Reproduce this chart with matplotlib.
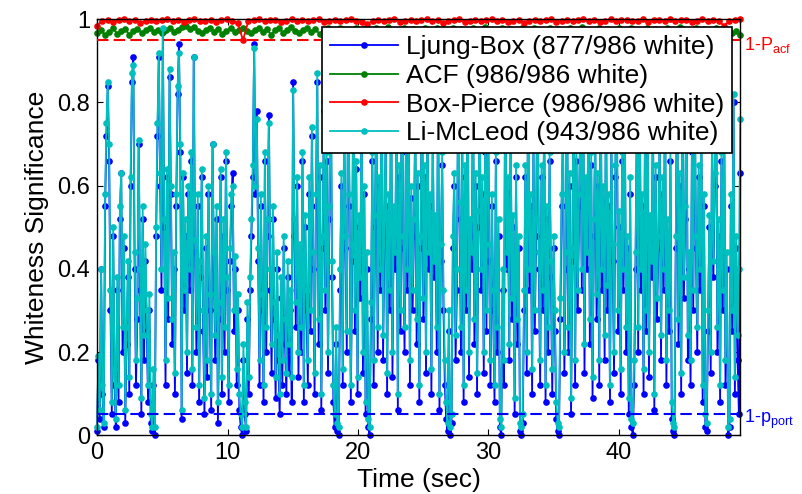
import numpy as np
import matplotlib
matplotlib.use("Agg")
import matplotlib.pyplot as plt

plt.rcParams["font.family"] = ["Liberation Sans", "DejaVu Sans"]
plt.rcParams["mathtext.fontset"] = "custom"
plt.rcParams["mathtext.rm"] = "Liberation Sans"

T_END = 49.3

# whiteness significance in percent, one row is about one second
ljung_box = [
    1, 18, 4, 40, 10, 2, 55, 72, 84, 66,
    30, 5, 48, 12, 2, 35, 8, 52, 63, 20,
    45, 3, 22, 38, 10, 60, 85, 91, 40, 12,
    28, 70, 35, 5, 52, 18, 42, 25, 8, 30,
    3, 1, 12, 0, 48, 72, 91, 60, 35, 97,
    50, 12, 62, 28, 86, 58, 22, 40, 10, 55,
    82, 94, 68, 4, 62, 30, 48, 15, 58, 35,
    66, 12, 91, 44, 20, 55, 8, 38, 62, 25,
    5, 45, 14, 58, 30, 6, 70, 40, 18, 52,
    3, 28, 62, 10, 48, 20, 66, 35, 8, 42,
    55, 63, 25, 40, 12, 30, 6, 2, 0, 18,
    5, 1, 28, 10, 35, 48, 62, 94, 58, 78,
    42, 12, 55, 30, 8, 66, 20, 48, 77, 35,
    15, 52, 28, 9, 40, 18, 5, 33, 12, 45,
    22, 10, 38, 15, 30, 8, 85, 48, 26, 60,
    14, 42, 20, 66, 8, 50, 30, 12, 58, 25,
    72, 40, 10, 55, 85, 22, 62, 6, 45, 78,
    30, 66, 15, 52, 90, 38, 8, 2, 22, 1,
    0, 35, 60, 12, 75, 45, 20, 88, 55, 8,
    42, 92, 25, 64, 10, 50, 33, 80, 15, 58,
    5, 40, 2, 0, 28, 66, 12, 50, 85, 20,
    60, 35, 95, 18, 48, 72, 10, 55, 30, 88,
    14, 52, 40, 78, 6, 62, 25, 92, 45, 20,
    68, 35, 85, 12, 57, 30, 48, 75, 22, 60,
    8, 45, 93, 28, 62, 15, 80, 40, 55, 10,
    72, 38, 50, 20, 88, 6, 42, 65, 30, 12,
    4, 1, 25, 0, 3, 45, 60, 18, 35, 88,
    52, 20, 70, 8, 62, 30, 95, 14, 48, 40,
    85, 22, 60, 10, 50, 78, 35, 58, 15, 68,
    25, 90, 42, 12, 55, 30, 8, 66, 20, 48,
    2, 0, 35, 12, 92, 40, 58, 18, 75, 28,
    50, 5, 62, 22, 45, 1, 0, 3, 30, 62,
    15, 85, 35, 55, 10, 70, 25, 48, 90, 40,
    12, 62, 30, 80, 8, 52, 20, 66, 38, 10,
    45, 25, 4, 1, 0, 28, 55, 72, 15, 40,
    88, 20, 60, 5, 42, 95, 12, 66, 30, 55,
    78, 35, 92, 15, 58, 40, 85, 22, 65, 9,
    48, 72, 28, 60, 12, 90, 35, 56, 18, 82,
    30, 55, 8, 70, 42, 15, 62, 88, 25, 50,
    10, 66, 35, 80, 20, 45, 5, 58, 2, 0,
    12, 40, 75, 20, 92, 35, 55, 10, 70, 25,
    88, 14, 50, 38, 80, 6, 62, 28, 45, 72,
    18, 58, 35, 85, 12, 48, 25, 66, 4, 1,
    0, 45, 92, 22, 60, 10, 75, 33, 52, 85,
    18, 40, 12, 68, 30, 88, 45, 20, 62, 35,
    78, 8, 55, 2, 1, 25, 50, 15, 72, 38,
    60, 92, 20, 48, 8, 66, 30, 80, 12, 40,
    0, 2, 55, 25, 80, 10, 45, 18, 5, 63,
]

li_mcleod = [
    2, 19, 6, 40, 12, 3, 58, 75, 85, 70,
    35, 8, 50, 16, 4, 38, 12, 55, 63, 26,
    48, 6, 26, 42, 14, 62, 87, 89, 44, 18,
    33, 71, 40, 9, 55, 24, 46, 30, 12, 34,
    5, 2, 16, 2, 50, 75, 92, 63, 40, 98,
    52, 18, 64, 33, 88, 60, 28, 44, 15, 58,
    84, 92, 70, 6, 63, 35, 52, 20, 60, 40,
    68, 16, 91, 47, 26, 58, 12, 42, 64, 30,
    9, 48, 18, 60, 34, 10, 70, 44, 24, 55,
    8, 32, 64, 14, 52, 26, 68, 38, 12, 45,
    58, 60, 30, 43, 16, 34, 10, 5, 2, 22,
    8, 2, 32, 14, 38, 52, 65, 93, 60, 76,
    45, 18, 58, 34, 12, 68, 26, 52, 75, 40,
    22, 55, 32, 14, 44, 24, 10, 38, 18, 48,
    28, 15, 42, 22, 35, 14, 83, 52, 32, 62,
    20, 46, 26, 68, 12, 53, 35, 18, 62, 30,
    74, 44, 15, 58, 87, 28, 65, 10, 48, 80,
    35, 68, 20, 55, 92, 42, 12, 5, 26, 3,
    2, 40, 63, 16, 78, 48, 25, 90, 58, 12,
    46, 93, 30, 66, 14, 53, 38, 82, 20, 60,
    8, 44, 4, 2, 32, 68, 18, 53, 87, 26,
    62, 40, 96, 24, 52, 74, 15, 58, 35, 90,
    20, 55, 44, 80, 10, 65, 30, 93, 48, 26,
    70, 40, 87, 18, 60, 35, 52, 78, 28, 63,
    12, 48, 94, 33, 65, 20, 82, 44, 58, 16,
    75, 42, 53, 26, 90, 10, 46, 68, 35, 18,
    8, 3, 30, 2, 5, 48, 63, 24, 40, 90,
    56, 26, 73, 12, 65, 35, 96, 20, 52, 44,
    87, 28, 63, 15, 54, 80, 40, 62, 20, 70,
    30, 92, 46, 18, 58, 35, 12, 68, 26, 52,
    4, 2, 40, 18, 94, 44, 62, 22, 78, 33,
    53, 9, 65, 28, 48, 3, 2, 5, 35, 65,
    20, 88, 40, 58, 16, 72, 30, 52, 92, 44,
    18, 65, 35, 83, 12, 55, 26, 68, 42, 16,
    48, 30, 8, 3, 2, 33, 58, 75, 20, 44,
    90, 26, 63, 9, 45, 96, 18, 70, 35, 58,
    80, 40, 94, 22, 62, 44, 88, 28, 68, 14,
    52, 74, 34, 63, 18, 92, 40, 60, 24, 85,
    36, 58, 12, 72, 46, 20, 65, 90, 30, 54,
    16, 68, 40, 83, 26, 48, 9, 62, 4, 3,
    18, 44, 78, 26, 94, 40, 58, 16, 72, 30,
    90, 20, 53, 42, 83, 10, 65, 33, 48, 75,
    24, 62, 40, 87, 18, 52, 30, 70, 8, 3,
    2, 48, 94, 28, 63, 15, 78, 38, 55, 87,
    24, 44, 18, 70, 35, 90, 48, 26, 65, 40,
    80, 12, 58, 5, 3, 30, 53, 20, 75, 42,
    63, 93, 26, 52, 12, 68, 35, 82, 18, 44,
    2, 4, 58, 30, 82, 14, 48, 24, 40, 76,
]

# per mille, these two stay close to 1
acf = [
    966, 974, 962, 970, 978, 965, 972, 976, 963, 971,
    977, 968, 974, 979, 970, 975, 966, 973, 978, 969,
    975, 981, 985, 976, 982, 972, 968, 975, 979, 970,
    976, 964, 972, 978, 969, 975, 980, 971, 966, 974,
    979, 970, 976, 963, 973, 978, 968, 975, 981, 972,
    967, 974, 979, 970, 976, 965, 972, 978, 969, 975,
    980, 971, 967, 974, 979, 970, 976, 964, 973, 978,
    968, 975, 981, 972, 967, 974, 979, 970, 976, 965,
    972, 978, 969, 975, 980, 971, 966, 974, 979, 970,
    976, 964, 973, 978, 968, 975, 981, 972, 967, 974,
    979, 970, 976, 965, 972, 978, 969, 975, 980, 971,
    966, 974, 979, 970, 976, 964, 973, 978, 968, 975,
    981, 972, 967, 974, 979, 970, 976, 965, 972, 978,
    969, 975, 980, 971, 966, 974, 979, 970, 976, 964,
    973, 978, 968, 975, 981, 972, 967, 974, 979, 970,
    976, 965, 972, 978, 969, 975, 970, 966, 972, 962,
]

box_pierce = [
    985, 996, 999, 994, 998, 1000, 995, 999, 990, 997,
    999, 995, 998, 1000, 996, 999, 994, 998, 1000, 995,
    997, 999, 994, 998, 1000, 996, 992, 950, 996, 998,
    1000, 995, 998, 999, 994, 997, 1000, 996, 999, 995,
    998, 1000, 994, 997, 999, 995, 998, 1000, 996, 994,
    988, 997, 999, 995, 998, 1000, 994, 997, 999, 996,
    998, 1000, 995, 999, 990, 996, 998, 1000, 994, 997,
    999, 995, 998, 1000, 996, 999, 994, 997, 999, 992,
    997, 999, 995, 998, 1000, 994, 997, 999, 996, 998,
    1000, 995, 999, 994, 997, 1000, 996, 998, 999, 995,
    997, 1000, 994, 998, 999, 996, 1000, 995, 998, 999,
    994, 997, 1000, 996, 999, 995, 985, 996, 998, 1000,
]

p_acf = 0.95
p_port = 0.05

labels = [
    "Ljung-Box (877/986 white)",
    "ACF (986/986 white)",
    "Box-Pierce (986/986 white)",
    "Li-McLeod (943/986 white)",
]

fig = plt.figure(figsize=(8.02, 4.94), dpi=100)
ax = fig.add_axes([0.121, 0.119, 0.802, 0.842])

series = [
    (np.array(ljung_box) / 100.0, "#0000FF"),
    (np.array(acf) / 1000.0, "#008000"),
    (np.array(box_pierce) / 1000.0, "#FF0000"),
    (np.array(li_mcleod) / 100.0, "#00BFBF"),
]
for (vals, col), lab in zip(series, labels):
    t = np.linspace(0, T_END, len(vals))
    ax.plot(t, vals, "-o", color=col, lw=1.3, ms=4.8, mew=0, label=lab, clip_on=False)

ax.axhline(p_acf, color="#FF0000", lw=1.5, dashes=(5.5, 2.5), zorder=3)
ax.axhline(p_port, color="#0000FF", lw=1.5, dashes=(5.5, 2.5), zorder=3)

ax.text(1.006, p_acf - 0.012, r"1-P$_{\rm acf}$", transform=ax.get_yaxis_transform(),
        color="#FF0000", fontsize=13, va="center", ha="left")
ax.text(1.006, p_port - 0.012, r"1-p$_{\rm port}$", transform=ax.get_yaxis_transform(),
        color="#0000FF", fontsize=13, va="center", ha="left")

ax.set_xlim(0, T_END)
ax.set_ylim(0, 1)
ax.set_xticks([0, 10, 20, 30, 40])
ax.set_yticks([0, 0.2, 0.4, 0.6, 0.8, 1])
ax.set_yticklabels(["0", "0.2", "0.4", "0.6", "0.8", "1"])
ax.tick_params(direction="in", top=True, right=True, length=4, width=0.8,
               labelsize=17, pad=5)
for sp in ax.spines.values():
    sp.set_linewidth(1.0)

ax.set_xlabel("Time (sec)", fontsize=19, labelpad=3)
ax.set_ylabel("Whiteness Significance", fontsize=19, labelpad=6)

leg = ax.legend(loc="upper right", fontsize=19, frameon=True, fancybox=False,
                framealpha=1, edgecolor="black", handlelength=2.6,
                handletextpad=0.3, labelspacing=0.18, borderpad=0.3,
                borderaxespad=0.3)
leg.get_frame().set_linewidth(1.2)

fig.savefig("out.png", dpi=100)
